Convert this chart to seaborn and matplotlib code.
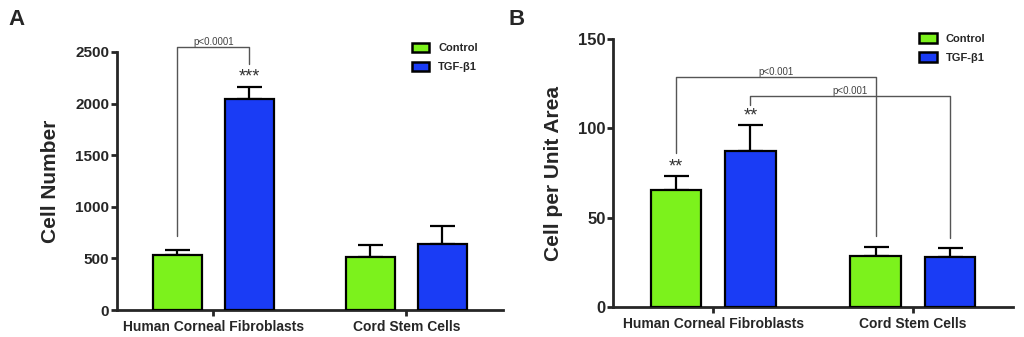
import matplotlib
matplotlib.use('Agg')  # Use non-interactive backend
import matplotlib.pyplot as plt
import matplotlib.patches as mpatches
import numpy as np
import pandas as pd
import seaborn as sns

# data
cells = ['Human Corneal Fibroblasts', 'Cord Stem Cells']
treatments = ['Control', 'TGF-\u03b21']

count_control = [530, 512]
count_tgf = [2045, 640]
count_err_control = [50, 118]
count_err_tgf = [116, 174]

area_control = [65.5, 28.5]
area_tgf = [87.3, 28.0]
area_err_control = [7.8, 5.1]
area_err_tgf = [14.6, 5.0]

colors = ['#7cf21c', '#1a3cf5']
palette = dict(zip(treatments, colors))

sns.set_style('ticks')
plt.rcParams['font.family'] = ['Liberation Sans', 'DejaVu Sans']
plt.rcParams['font.weight'] = 'bold'


def make_df(ctrl, tgf, err_c, err_t):
    rows = []
    for i, c in enumerate(cells):
        rows.append({'cell': c, 'treatment': treatments[0], 'value': ctrl[i], 'err': err_c[i]})
        rows.append({'cell': c, 'treatment': treatments[1], 'value': tgf[i], 'err': err_t[i]})
    return pd.DataFrame(rows)


def draw_panel(ax, df, ylabel, yticks, ytick_size):
    sns.barplot(data=df, x='cell', y='value', hue='treatment', order=cells,
                hue_order=treatments, palette=palette, saturation=1,
                edgecolor='black', linewidth=1.6, width=0.746, gap=0.32,
                errorbar=None, legend=False, ax=ax, zorder=3)
    # upper-only error bars placed on the bars seaborn drew
    centers = {}
    for cont, t in zip(ax.containers, treatments):
        for patch, c in zip(cont.patches, cells):
            x = patch.get_x() + patch.get_width() / 2
            h = patch.get_height()
            e = df[(df.cell == c) & (df.treatment == t)]['err'].iloc[0]
            ax.errorbar([x], [h], yerr=[[0], [e]], fmt='none', ecolor='black',
                        elinewidth=1.6, capsize=9, capthick=1.6, zorder=2)
            centers[(c, t)] = (x, h + e)
    ax.set_xlim(-0.5, 1.5)
    ax.set_ylim(yticks[0], yticks[-1])
    ax.set_yticks(yticks)
    ax.set_xlabel('')
    ax.set_ylabel(ylabel, fontsize=15, fontweight='bold', labelpad=11)
    sns.despine(ax=ax)
    for s in ['left', 'bottom']:
        ax.spines[s].set_linewidth(2)
    ax.tick_params(axis='y', width=2, length=4.5, pad=1, labelsize=ytick_size)
    ax.tick_params(axis='x', width=2, length=4, pad=3, labelsize=10)
    for lab in ax.get_xticklabels() + ax.get_yticklabels():
        lab.set_fontweight('bold')
    return centers


def add_legend(ax, anchor):
    handles = [mpatches.Patch(facecolor=palette[t], edgecolor='black', linewidth=1.8, label=t)
               for t in treatments]
    ax.legend(handles=handles, loc='upper left', bbox_to_anchor=anchor, frameon=False,
              borderaxespad=0, borderpad=0, handlelength=1.6, handleheight=0.95,
              handletextpad=0.8, labelspacing=0.75,
              prop={'size': 8, 'weight': 'bold'})


def bracket(ax, x1, x2, y1, y2, top, label, tx):
    ax.plot([x1, x1, x2, x2], [y1, top, top, y2], color='#555555', lw=1.0,
            clip_on=False, zorder=4)
    ax.text(tx, top, label, ha='center', va='bottom', fontsize=7,
            fontweight='normal', color='#444444', clip_on=False)


fig = plt.figure(figsize=(10.24, 3.37), dpi=100)
axA = fig.add_axes([0.114, 0.080, 0.377, 0.766])
axB = fig.add_axes([0.599, 0.089, 0.390, 0.795])

dfA = make_df(count_control, count_tgf, count_err_control, count_err_tgf)
cA = draw_panel(axA, dfA, 'Cell Number', [0, 500, 1000, 1500, 2000, 2500], 11)
add_legend(axA, (0.764, 1.035))

xc, _ = cA[(cells[0], treatments[0])]
xt, et = cA[(cells[0], treatments[1])]
bracket(axA, xc, xt, 717, 2384, 2548, 'p<0.0001', (xc + xt) / 2)
axA.text(xt, et + 10, '***', ha='center', va='bottom', fontsize=13,
         fontweight='normal', color='#333333')

dfB = make_df(area_control, area_tgf, area_err_control, area_err_tgf)
cB = draw_panel(axB, dfB, 'Cell per Unit Area', [0, 50, 100, 150], 12)
add_legend(axB, (0.765, 1.022))

x1, e1 = cB[(cells[0], treatments[0])]
x2, e2 = cB[(cells[0], treatments[1])]
x3, _ = cB[(cells[1], treatments[0])]
x4, _ = cB[(cells[1], treatments[1])]
bracket(axB, x1, x3, 86, 39.7, 128.7, 'p<0.001', (x1 + x3) / 2)
bracket(axB, x2, x4, 113, 38.6, 118.1, 'p<0.001', (x2 + x4) / 2)
axB.text(x1, e1 + 0.5, '**', ha='center', va='bottom', fontsize=13,
         fontweight='normal', color='#333333')
axB.text(x2, e2 + 0.5, '**', ha='center', va='bottom', fontsize=13,
         fontweight='normal', color='#333333')

fig.text(0.008, 0.925, 'A', fontsize=16, fontweight='bold')
fig.text(0.497, 0.925, 'B', fontsize=16, fontweight='bold')

fig.savefig('out.png', dpi=100)
plt.close(fig)
